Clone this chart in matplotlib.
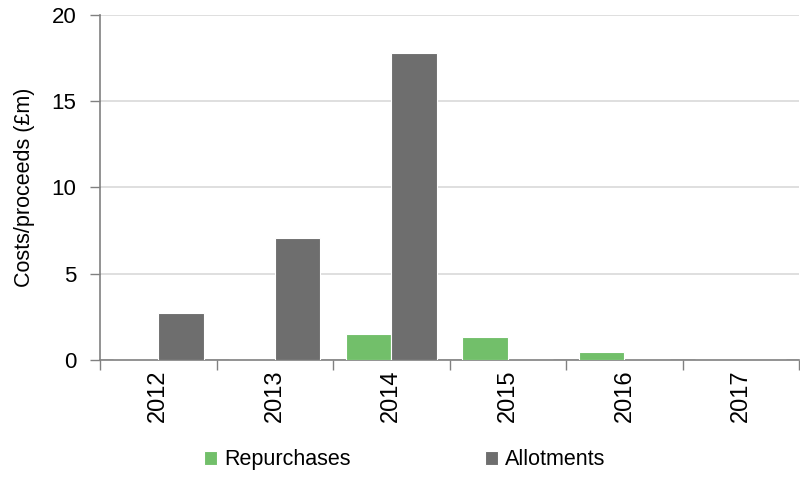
import matplotlib
matplotlib.use("Agg")
import matplotlib.pyplot as plt
import numpy as np

# data
years = ['2012', '2013', '2014', '2015', '2016', '2017']
repurchases = [0, 0, 1.52, 1.33, 0.46, 0]
allotments = [2.7, 7.1, 17.8, 0, 0, 0]

green = '#72BF6A'
grey = '#6E6E6E'

plt.rcParams['font.family'] = ['Liberation Sans', 'DejaVu Sans']

fig = plt.figure(figsize=(8, 4.83), dpi=100)
ax = fig.add_axes([0.125, 0.2547, 0.874, 0.7143])

x = np.arange(len(years))
w = 0.39
ax.bar(x - w / 2, repurchases, w, color=green, edgecolor='white', linewidth=0.8,
       label='Repurchases', zorder=3)
ax.bar(x + w / 2, allotments, w, color=grey, edgecolor='white', linewidth=0.8,
       label='Allotments', zorder=3)

ax.set_xlim(-0.5, len(years) - 0.5)
ax.set_ylim(0, 20)
ax.set_yticks([0, 5, 10, 15, 20])
ax.yaxis.grid(True, color='#D9D9D9', linewidth=1.2, zorder=0)
ax.tick_params(axis='y', labelsize=16, length=7, width=1, color='#808080', pad=10)

# boundaries as major ticks, labels at centres
ax.set_xticks(np.arange(len(years) + 1) - 0.5)
ax.set_xticklabels([])
ax.set_xticks(x, minor=True)
ax.set_xticklabels(years, minor=True, rotation=90, fontsize=17)
ax.tick_params(axis='x', which='major', length=7, width=1, color='#808080')
ax.tick_params(axis='x', which='minor', length=0, pad=7)

for s in ['top', 'right']:
    ax.spines[s].set_visible(False)
for s in ['left', 'bottom']:
    ax.spines[s].set_color('#808080')
    ax.spines[s].set_linewidth(1.2)

ax.set_ylabel('Costs/proceeds (£m)', fontsize=15.5, labelpad=12)

fig.legend(loc='center', bbox_to_anchor=(0.506, 0.048), ncol=2, frameon=False,
           fontsize=15.5, handlelength=0.6, handleheight=0.6, handletextpad=0.35,
           columnspacing=6.2)

fig.savefig('out.png', dpi=100)
